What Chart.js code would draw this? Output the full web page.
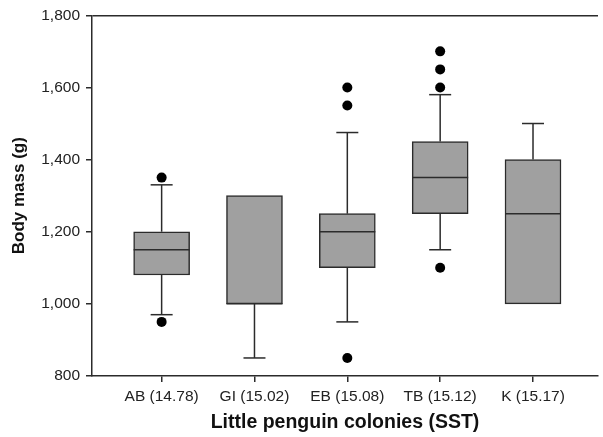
<!DOCTYPE html>
<html lang="en">
<head>
  <meta charset="UTF-8" />
  <title>Little penguin body mass</title>
  <script src="https://cdn.jsdelivr.net/npm/chart.js"></script>
  <style>
    html, body { margin: 0; padding: 0; background: #fff; }
    #wrap { width: 603px; height: 437px; }
  </style>
</head>
<body>
  <div id="wrap"><canvas id="massChart"></canvas></div>

  <script>
    // colonies (sea surface temperature in brackets)
    const colonies = ['AB (14.78)', 'GI (15.02)', 'EB (15.08)', 'TB (15.12)', 'K (15.17)'];

    // box plot summary, body mass in g
    const q1 = [1080, 1000, 1100, 1250, 1000];
    const q3 = [1200, 1300, 1250, 1450, 1400];
    const medians = [1150, 1000, 1200, 1350, 1250];
    const whiskerLow = [970, 850, 950, 1150, 1000];
    const whiskerHigh = [1330, 1300, 1475, 1580, 1500];
    const outliers = [
      [950, 1350],
      [],
      [850, 1550, 1600],
      [1100, 1600, 1650, 1700],
      []
    ];

    const yTicks = [800, 1000, 1200, 1400, 1600, 1800];

    const ink = '#2b2b2b';
    const fontFamily = '"Liberation Sans", Arial, sans-serif';

    const boxData = colonies.map((c, i) => ({ x: i + 1, y: [q1[i], q3[i]] }));
    const outlierData = [];
    outliers.forEach((list, i) => list.forEach(v => outlierData.push({ x: i + 1, y: v })));

    // whiskers + medians, drawn through the chart scales
    const boxExtras = {
      id: 'boxExtras',
      afterDatasetsDraw(chart) {
        const ctx = chart.ctx;
        const xs = chart.scales.x, ys = chart.scales.y;
        const half = 28, cap = 11;
        ctx.save();
        ctx.strokeStyle = ink;
        ctx.lineWidth = 1.5;
        colonies.forEach((c, i) => {
          const x = xs.getPixelForValue(i + 1);
          const seg = (x1, y1, x2, y2) => {
            ctx.beginPath(); ctx.moveTo(x1, y1); ctx.lineTo(x2, y2); ctx.stroke();
          };
          // median
          const m = ys.getPixelForValue(medians[i]);
          seg(x - half, m, x + half, m);
          // upper whisker
          if (whiskerHigh[i] > q3[i]) {
            const t = ys.getPixelForValue(whiskerHigh[i]);
            seg(x, ys.getPixelForValue(q3[i]), x, t);
            seg(x - cap, t, x + cap, t);
          }
          // lower whisker
          if (whiskerLow[i] < q1[i]) {
            const b = ys.getPixelForValue(whiskerLow[i]);
            seg(x, ys.getPixelForValue(q1[i]), x, b);
            seg(x - cap, b, x + cap, b);
          }
        });
        ctx.restore();
      }
    };

    const ctx = document.getElementById('massChart').getContext('2d');
    new Chart(ctx, {
      type: 'bar',
      data: {
        datasets: [
          {
            type: 'scatter',
            data: outlierData,
            pointRadius: 5,
            pointHoverRadius: 5,
            backgroundColor: '#000',
            borderWidth: 0
          },
          {
            data: boxData,
            backgroundColor: '#a0a0a0',
            borderColor: ink,
            borderWidth: 1.5,
            borderSkipped: false,
            barThickness: 56
          }
        ]
      },
      options: {
        responsive: true,
        maintainAspectRatio: false,
        animation: false,
        layout: { padding: { top: 15, right: 0, bottom: 0, left: 0 } },
        plugins: {
          legend: { display: false },
          tooltip: { enabled: false }
        },
        scales: {
          x: {
            type: 'linear',
            min: 0.25,
            max: 5.7,
            offset: false,
            afterBuildTicks: s => { s.ticks = colonies.map((c, i) => ({ value: i + 1 })); },
            afterFit: s => { s.height = 61; },
            grid: { offset: false, drawOnChartArea: false, tickLength: 6, tickColor: ink, lineWidth: 1.5 },
            border: { color: ink, width: 1.5 },
            ticks: {
              autoSkip: false,
              maxRotation: 0,
              padding: 5,
              color: '#222',
              font: { family: fontFamily, size: 15.5 },
              callback: v => colonies[v - 1]
            },
            title: {
              display: true,
              text: 'Little penguin colonies (SST)',
              color: '#111',
              font: { family: fontFamily, size: 19.5, weight: 'bold' },
              padding: { top: 0, bottom: 3 }
            }
          },
          y: {
            min: 800,
            max: 1800,
            afterBuildTicks: s => { s.ticks = yTicks.map(v => ({ value: v })); },
            afterFit: s => { s.width = 92; },
            grid: {
              color: c => (c.tick && c.tick.value === 1800 ? ink : 'rgba(0,0,0,0)'),
              lineWidth: 1.5,
              tickColor: ink,
              tickLength: 6
            },
            border: { color: ink, width: 1.5 },
            ticks: {
              padding: 6,
              color: '#222',
              font: { family: fontFamily, size: 15.5 },
              callback: v => v.toLocaleString('en-US')
            },
            title: {
              display: true,
              text: 'Body mass (g)',
              color: '#111',
              font: { family: fontFamily, size: 17, weight: 'bold' },
              padding: { top: 9, bottom: 0 }
            }
          }
        }
      },
      plugins: [boxExtras]
    });
  </script>
</body>
</html>
